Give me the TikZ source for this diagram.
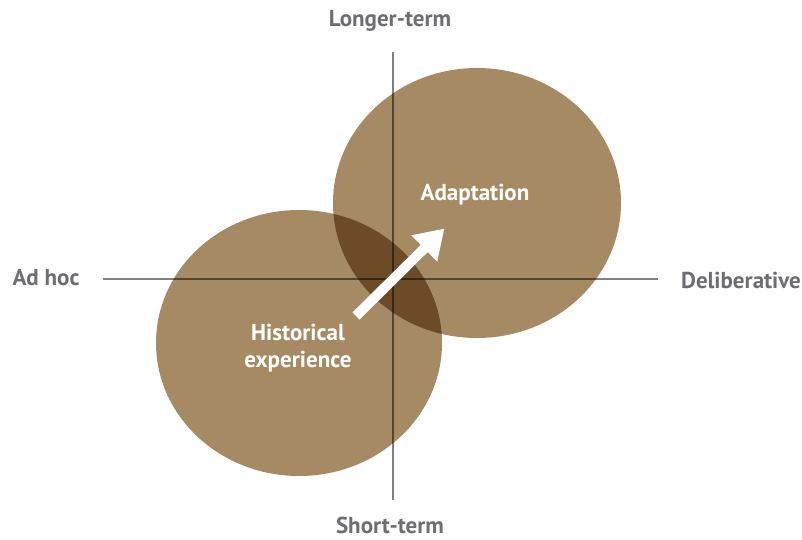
\documentclass[tikz,border=0pt]{standalone}
\usepackage{fontspec}
\setmainfont{PT Sans}
\begin{document}
\begin{tikzpicture}[x=1pt,y=-1pt,
  lbl/.style={font=\bfseries\fontsize{23}{27}\selectfont, text=txtgray, inner sep=0pt},
  inlbl/.style={font=\bfseries\fontsize{23}{27}\selectfont, text=white, inner sep=0pt, align=center},
  axis/.style={line width=1.6pt}]
\definecolor{txtgray}{RGB}{109,110,113}
\definecolor{axgray}{RGB}{128,128,128}
\definecolor{ell}{RGB}{166,138,100}
\definecolor{ovl}{RGB}{108,75,39}
\definecolor{axin}{RGB}{83,69,50}
\definecolor{axov}{RGB}{54,40,24}
\useasboundingbox (0,0) rectangle (802,540);
\def\ellA{(299,343) ellipse [x radius=143, y radius=133]}
\def\ellB{(477,203) ellipse [x radius=144, y radius=135]}
% axes
\coordinate (vt) at (393,52);
\coordinate (vb) at (393,500);
\coordinate (hl) at (103,279);
\coordinate (hr) at (658,279);
\draw[axis, axgray] (vt) -- (vb);
\draw[axis, axgray] (hl) -- (hr);
% ellipses
\fill[ell] \ellA;
\fill[ell] \ellB;
\begin{scope}
  \clip \ellA;
  \fill[ovl] \ellB;
  \draw[axis, axin] (vt) -- (vb);
  \draw[axis, axin] (hl) -- (hr);
\end{scope}
\begin{scope}
  \clip \ellB;
  \draw[axis, axin] (vt) -- (vb);
  \draw[axis, axin] (hl) -- (hr);
  \clip \ellA;
  \draw[axis, axov] (vt) -- (vb);
  \draw[axis, axov] (hl) -- (hr);
\end{scope}
% arrow
\coordinate (as) at (356,316);
\begin{scope}[shift={(as)}, rotate=44.7]
  \fill[white] (0,-5) -- (96,-5) -- (96,-18.5) -- (124,0) -- (96,18.5) -- (96,5) -- (0,5) -- cycle;
\end{scope}
% labels
\node[lbl] (lt) at (390,21) {Longer-term};
\node[lbl] (st) at (390,525) {Short-term};
\node[lbl] (ah) at (46,278) {Ad hoc};
\node[lbl] (dl) at (741,280) {Deliberative};
\node[inlbl] (ad) at (475,195) {Adaptation};
\node[inlbl] (he) at (298,348) {Historical\\experience};
\end{tikzpicture}
\end{document}
